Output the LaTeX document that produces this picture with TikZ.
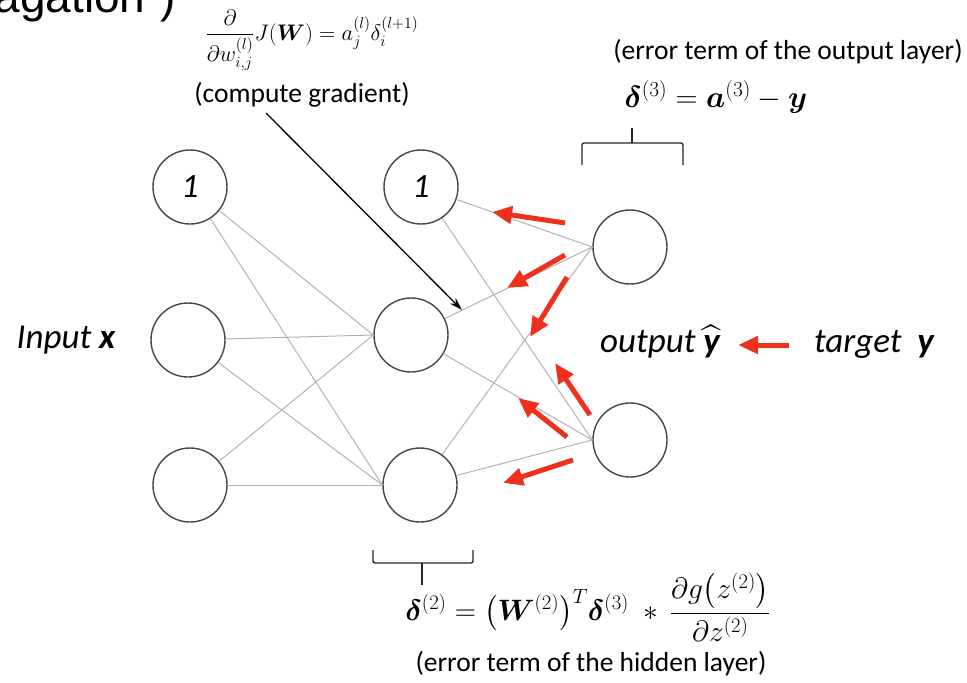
\RequirePackage{fix-cm}
\documentclass[tikz,border=0pt]{standalone}
\usepackage{amsmath,amssymb}
\usepackage{bm}
\usepackage{fontspec}
\setmainfont{Carlito}
\newfontfamily\headfont{Liberation Sans}
\usepackage{tikz}
\usetikzlibrary{positioning, calc, arrows.meta}
\definecolor{backred}{RGB}{238,48,28}
\definecolor{linkgray}{RGB}{178,178,178}
\definecolor{rimgray}{RGB}{70,70,70}

\begin{document}
\begin{tikzpicture}[x=1pt, y=-1pt,
    neuron/.style={circle, draw=rimgray, line width=1.4pt, minimum size=74pt, inner sep=0pt, font=\fontsize{34}{40}\selectfont\itshape},
    link/.style={draw=linkgray, line width=1pt},
    backprop/.style={draw=backred, line width=5pt, -{Triangle[length=20pt,width=17pt]}},
    pointer/.style={draw=black, line width=1.3pt, -{Stealth[length=13pt,width=8pt]}},
    bracket/.style={draw=black!85, line width=1.4pt, rounded corners=2pt},
    big/.style={font=\fontsize{35}{40}\selectfont\itshape, inner sep=0pt},
    note/.style={font=\fontsize{27.5}{32}\selectfont}]
        \useasboundingbox (0,0) rectangle (967,683);

        % Title remnant
        \node[anchor=base west, font=\headfont\fontsize{46}{50}\selectfont] (head) at (-9,12) {agation”)};

        % Neurons
        \node[neuron] (b1) at (190,187) {1};
        \node[neuron] (x1) at (188,340) {};
        \node[neuron] (x2) at (190,485) {};
        \node[neuron] (b2) at (421,187) {1};
        \node[neuron] (h1) at (411,335) {};
        \node[neuron] (h2) at (420,485) {};
        \node[neuron] (o1) at (630,247) {};
        \node[neuron] (o2) at (630,440) {};

        % Weights
        \foreach \s in {b1,x1,x2}
            \foreach \t in {h1,h2}
                \draw[link] (\s) -- (\t.west);
        \foreach \s in {b2,h1,h2}
            \foreach \t in {o1,o2}
                \draw[link] (\s) -- (\t.west);

        % Backward flow
        \foreach \xa/\ya/\xb/\yb in {565/223/492/212, 565/255/507/288, 567/277/530/337,
                                     590/415/555/363, 567/437/518/398, 573/460/503/483}
            \draw[backprop] (\xa,\ya) -- (\xb,\yb);

        % Labels
        \node[big, anchor=base] (inp) at (66,348) {Input \textbf{x}};
        \node[big, anchor=base] (out) at (660,352) {output $\widehat{\text{\bfseries y}}$};
        \node[big, anchor=base] (tgt) at (874,352) {target\ \ \textbf{y}};
        \draw[backprop] ($(tgt.base west)+(-25,-7)$) -- ($(out.base east)+(18,-7)$);

        % Gradient
        \node[font=\fontsize{22.5}{26}\selectfont] (fgrad) at (312,40) {$\dfrac{\partial}{\partial w^{(l)}_{i,j}}J(\bm{W}) = a^{(l)}_j\delta^{(l+1)}_i$};
        \node[note] (grad) at (302,95) {(compute gradient)};
        \coordinate (gradfoot) at (266,113);
        \coordinate (gradtip) at (462,310);
        \draw[pointer] (gradfoot) -- (gradtip);

        % Output error
        \node[note] (outnote) at (788,52) {(error term of the output layer)};
        \node[font=\fontsize{30.5}{34}\selectfont] (fout) at (716,97) {$\bm{\delta}^{(3)} = \bm{a}^{(3)} - \bm{y}$};
        \draw[bracket] (582,165) -- (582,143) -- (683,143) -- (683,165);
        \draw[bracket] (632,143) -- (632,128);

        % Hidden error
        \draw[bracket] (373,550) -- (373,563) -- (473,563) -- (473,550);
        \draw[bracket] (422,563) -- (422,585);
        \node[font=\fontsize{29.5}{34}\selectfont] (fhid) at (588,607) {$\bm{\delta}^{(2)} = \bigl(\bm{W}^{(2)}\bigr)^{T}\bm{\delta}^{(3)}\;*\,\dfrac{\partial g\bigl(z^{(2)}\bigr)}{\partial z^{(2)}}$};
        \node[note] (hidnote) at (591,664) {(error term of the hidden layer)};
    \end{tikzpicture}
\end{document}
